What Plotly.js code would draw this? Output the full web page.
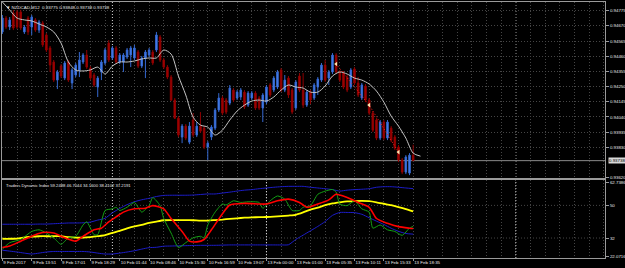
<!DOCTYPE html>
<html><head><meta charset="utf-8">
<script src="https://cdn.plot.ly/plotly-3.0.1.min.js"></script>
<style>html,body{margin:0;padding:0;background:#000;}#chart{width:625px;height:268px;}</style>
</head><body><div id="chart"></div>
<script>
const symbolTitle = 'NZDCAD,M12  0.93775 0.93848 0.93738 0.93738';
const tdiTitle = 'Traders Dynamic Index 59.2488 46.7044 34.1600 38.4102 37.2191';

const open = [
0.94628,0.94724,0.94662,0.94759,0.94766,0.94766,0.94628,0.94724,0.94662,0.94711,
0.94641,0.94690,0.94607,0.94517,0.94420,0.94295,0.94392,0.94309,0.94420,0.94275,
0.94330,0.94365,0.94420,0.94468,0.94378,0.94330,0.94247,0.94351,0.94413,0.94551,
0.94448,0.94517,0.94420,0.94420,0.94455,0.94468,0.94448,0.94489,0.94392,0.94448,
0.94468,0.94489,0.94503,0.94593,0.94434,0.94385,0.94316,0.94157,0.94032,0.93901,
0.93977,0.93866,0.94019,0.93915,0.93977,0.93963,0.93832,0.93901,0.93963,0.94088,
0.94171,0.94157,0.94136,0.94226,0.94171,0.94178,0.94212,0.94122,0.94171,0.94205,
0.94171,0.94102,0.94143,0.94261,0.94226,0.94247,0.94365,0.94226,0.94309,0.94226,
0.94102,0.94323,0.94226,0.94122,0.94212,0.94171,0.94247,0.94295,0.94399,0.94309,
0.94351,0.94468,0.94351,0.94344,0.94316,0.94247,0.94372,0.94275,0.94171,0.94254,
0.94157,0.94067,0.94019,0.93894,0.94005,0.93894,0.93963,0.93901,0.93832,0.93742,
0.93659,0.93652,0.93775];
const high = [
0.94745,0.94738,0.94731,0.94780,0.94780,0.94780,0.94676,0.94738,0.94745,0.94724,
0.94711,0.94704,0.94621,0.94531,0.94434,0.94365,0.94406,0.94427,0.94434,0.94378,
0.94413,0.94489,0.94482,0.94503,0.94392,0.94344,0.94323,0.94434,0.94517,0.94572,
0.94531,0.94531,0.94482,0.94482,0.94517,0.94531,0.94538,0.94503,0.94462,0.94503,
0.94517,0.94503,0.94628,0.94607,0.94448,0.94399,0.94330,0.94171,0.94046,0.93991,
0.93991,0.94005,0.94067,0.94005,0.94074,0.93977,0.93873,0.93984,0.94102,0.94205,
0.94185,0.94171,0.94261,0.94240,0.94226,0.94240,0.94226,0.94219,0.94219,0.94219,
0.94185,0.94205,0.94261,0.94275,0.94323,0.94365,0.94378,0.94330,0.94323,0.94240,
0.94295,0.94344,0.94344,0.94226,0.94226,0.94275,0.94316,0.94413,0.94434,0.94365,
0.94482,0.94482,0.94365,0.94358,0.94330,0.94378,0.94385,0.94316,0.94275,0.94268,
0.94171,0.94081,0.94032,0.94019,0.94019,0.94019,0.93977,0.93915,0.93846,0.93756,
0.93776,0.93790,0.93848];
const low = [
0.94614,0.94648,0.94641,0.94641,0.94648,0.94641,0.94614,0.94607,0.94607,0.94628,
0.94621,0.94524,0.94489,0.94351,0.94282,0.94233,0.94309,0.94295,0.94282,0.94233,
0.94316,0.94316,0.94406,0.94372,0.94295,0.94247,0.94178,0.94295,0.94399,0.94420,
0.94434,0.94406,0.94406,0.94351,0.94441,0.94385,0.94434,0.94378,0.94378,0.94309,
0.94455,0.94399,0.94489,0.94420,0.94372,0.94302,0.94150,0.94026,0.93901,0.93859,
0.93880,0.93852,0.93901,0.93901,0.93929,0.93818,0.93742,0.93880,0.93949,0.94074,
0.94053,0.94060,0.94122,0.94143,0.94157,0.94157,0.94095,0.94109,0.94157,0.94088,
0.94088,0.94005,0.94129,0.94178,0.94212,0.94233,0.94212,0.94212,0.94171,0.94060,
0.94088,0.94212,0.94102,0.94109,0.94129,0.94157,0.94192,0.94282,0.94282,0.94261,
0.94337,0.94337,0.94282,0.94233,0.94212,0.94233,0.94261,0.94178,0.94157,0.94143,
0.94053,0.93936,0.93880,0.93880,0.93880,0.93880,0.93866,0.93811,0.93728,0.93645,
0.93645,0.93638,0.93738];
const close = [
0.94724,0.94662,0.94711,0.94655,0.94662,0.94655,0.94662,0.94628,0.94731,0.94641,
0.94697,0.94538,0.94503,0.94399,0.94295,0.94351,0.94323,0.94413,0.94295,0.94365,
0.94399,0.94434,0.94468,0.94385,0.94309,0.94261,0.94309,0.94420,0.94503,0.94434,
0.94517,0.94420,0.94468,0.94468,0.94503,0.94517,0.94517,0.94392,0.94448,0.94489,
0.94503,0.94413,0.94607,0.94434,0.94385,0.94316,0.94157,0.94032,0.93915,0.93977,
0.93894,0.93977,0.93915,0.93977,0.93942,0.93832,0.93859,0.93970,0.94088,0.94171,
0.94067,0.94074,0.94240,0.94157,0.94212,0.94226,0.94109,0.94205,0.94205,0.94102,
0.94102,0.94192,0.94247,0.94192,0.94309,0.94351,0.94226,0.94295,0.94192,0.94074,
0.94282,0.94226,0.94122,0.94212,0.94157,0.94261,0.94302,0.94399,0.94295,0.94351,
0.94468,0.94351,0.94295,0.94247,0.94226,0.94365,0.94275,0.94192,0.94261,0.94157,
0.94067,0.93949,0.93894,0.94005,0.93894,0.94005,0.93880,0.93825,0.93742,0.93659,
0.93763,0.93776,0.93738];

// moving average, read every 2 bars (last points are shifted past the last bar)
const maPrice = [
0.94835,0.94780,0.94724,0.94711,0.94704,0.94683,0.94662,0.94628,0.94551,0.94420,
0.94365,0.94358,0.94365,0.94385,0.94337,0.94392,0.94420,0.94420,0.94427,0.94441,
0.94448,0.94448,0.94503,0.94475,0.94323,0.94192,0.94039,0.93984,0.93970,0.93915,
0.93949,0.94019,0.94081,0.94122,0.94150,0.94157,0.94150,0.94178,0.94226,0.94261,
0.94247,0.94240,0.94212,0.94212,0.94254,0.94323,0.94351,0.94337,0.94309,0.94295,
0.94268,0.94219,0.94143,0.94046,0.93977,0.93894,0.93790,0.93769];

const arrowBars = [91, 100, 108];
const arrowPrice = [0.94406, 0.94122, 0.93797];
const bidPrice = 0.93738;

const priceTicks = [0.94775,0.94670,0.94565,0.94460,0.94355,0.94250,0.94145,0.94040,0.93935,0.93830,0.93620];
const timeTickBars = [0,8,16,24,32,40,48,56,64,72,80,88,96,104,112];
const timeLabels = ['9 Feb 2017','9 Feb 13:51','9 Feb 17:01','9 Feb 18:29','10 Feb 01:44','10 Feb 08:46','10 Feb 15:30','10 Feb 16:59','10 Feb 19:07','13 Feb 00:00','13 Feb 01:00','13 Feb 05:35','13 Feb 10:11','13 Feb 15:33','13 Feb 18:35'];
const daySeparators = [30, 72, 140];

// Traders Dynamic Index, bands and base read every 2 bars
const upperBand = [39.6,39.6,39.6,39.6,39.6,39.7,39.7,39.9,40.1,40.3,
40.3,40.4,40.8,41.9,42.9,45.9,48.3,50.4,52.0,53.1,
53.9,54.9,55.5,55.6,55.6,55.6,55.7,56.0,56.3,56.3,
56.8,57.3,57.9,58.4,58.7,59.2,59.6,60.0,60.3,60.5,
60.5,60.5,60.0,59.6,59.2,58.7,57.9,58.4,58.7,58.9,
59.2,60.0,60.3,60.3,60.0,59.6,59.25];
const lowerBand = [25.3,24.8,24.3,23.7,23.2,23.7,24.3,24.6,24.6,24.6,
24.6,24.6,24.3,23.7,23.2,23.2,23.7,24.3,25.0,25.9,
26.7,26.9,27.5,27.6,27.7,27.8,27.9,28.0,28.0,28.0,
28.1,28.2,28.2,28.2,28.2,28.2,28.2,28.2,28.2,28.3,
31.2,33.6,36.0,38.4,41.1,44.5,46.1,46.1,46.0,45.1,
43.2,41.3,39.5,37.4,35.7,34.5,34.16];
const marketBase = [31.6,31.6,31.7,32.3,32.8,33.0,33.0,33.0,33.0,32.5,
32.2,32.2,32.5,33.0,33.6,34.9,36.0,37.3,38.4,39.2,
40.3,41.1,41.8,41.9,41.9,41.9,41.8,41.6,41.6,41.9,
42.2,42.6,42.9,43.2,43.4,43.5,43.6,43.8,44.1,44.4,
44.8,46.1,47.7,48.8,50.1,51.1,51.7,52.2,52.4,52.5,
52.3,51.7,50.9,50.1,49.1,48.0,46.70];
const rsiBars = [0,2,5,8,10,12,14,16,18,20,22,23,25,26,28,30,31,32,34,36,37,38,40,41,43,44,46,48,50,52,54,55,56,58,60,61,63,65,67,70,71,73,75,77,79,81,82,84,86,88,90,91,92,94,96,98,100,101,103,105,107,109,111,112];
const rsiLine = [25.87,29.44,31.2,35.63,36.53,34.77,32.11,28.53,32.11,32.96,39.2,40.96,33.87,33.87,47.2,48.1,48.96,47.2,48.96,51.63,48.96,46.29,49.87,54.29,49.87,42.77,34.77,26.77,29.44,32.11,32.96,32.11,39.2,46.29,50.77,50.24,52.53,51.63,52.0,51.63,48.43,52.53,55.2,53.44,47.2,47.2,48.96,49.87,56.11,57.87,58.77,57.33,50.77,49.87,52.53,48.1,46.29,37.44,39.2,36.53,35.63,33.49,37.44,38.41];
const sigBars = [0,2,5,9,11,14,17,20,22,25,27,29,31,33,36,39,41,44,46,49,51,53,55,57,60,62,66,70,72,75,78,81,83,86,89,91,94,97,100,102,105,108,111,112];
const signalLine = [26.77,27.63,30.29,33.87,35.09,34.77,32.11,30.29,32.96,36.53,37.44,40.96,43.63,46.29,48.1,48.43,49.87,48.1,42.77,35.63,30.29,29.87,31.2,36.53,45.44,50.24,51.09,50.77,50.77,52.53,53.44,51.63,48.96,50.77,53.07,56.11,54.29,51.63,48.96,42.77,40.11,38.29,37.44,37.22];
const tdiTicks = [62.7386, 50, 32, 22.0716];
const tdiTickText = ['62.7386','50','32','22.0716'];
const tdiLevels = [50, 32];

const bars = close.map((_, i) => i);
const maBars = maPrice.map((_, k) => 2 * k);
const tdiBars = upperBand.map((_, k) => 2 * k);

const GRID = '#454545', FRAME = '#9a9a9a', TXT = '#e8e8e8';
const FONT = 'Liberation Sans, Arial, sans-serif';
const DOT = '1px,2px';

const traces = [
  {type:'candlestick', x:bars, open:open, high:high, low:low, close:close, xaxis:'x', yaxis:'y',
   increasing:{line:{color:'#3568d0', width:1}, fillcolor:'#4a86f5'},
   decreasing:{line:{color:'#8e0000', width:1}, fillcolor:'#aa0000'},
   whiskerwidth:0, hoverinfo:'skip'},
  {type:'scatter', mode:'lines', x:maBars, y:maPrice, xaxis:'x', yaxis:'y',
   line:{color:'#c4c4c4', width:1, shape:'spline', smoothing:0.8}, hoverinfo:'skip'},
  {type:'scatter', mode:'lines+markers', x:arrowBars, y:arrowPrice, xaxis:'x', yaxis:'y',
   line:{color:'#ff2020', width:1, dash:DOT},
   marker:{symbol:'triangle-left', size:4, color:'#ffe6b0'}, hoverinfo:'skip'},
  {type:'scatter', mode:'lines', x:tdiBars, y:upperBand, xaxis:'x2', yaxis:'y2',
   line:{color:'#1c1cc8', width:1, shape:'spline', smoothing:0.6}, hoverinfo:'skip'},
  {type:'scatter', mode:'lines', x:tdiBars, y:lowerBand, xaxis:'x2', yaxis:'y2',
   line:{color:'#1c1cc8', width:1, shape:'spline', smoothing:0.6}, hoverinfo:'skip'},
  {type:'scatter', mode:'lines', x:tdiBars, y:marketBase, xaxis:'x2', yaxis:'y2',
   line:{color:'#ffff00', width:1.8, shape:'spline', smoothing:0.6}, hoverinfo:'skip'},
  {type:'scatter', mode:'lines', x:rsiBars, y:rsiLine, xaxis:'x2', yaxis:'y2',
   line:{color:'#14a014', width:1, shape:'spline', smoothing:0.6}, hoverinfo:'skip'},
  {type:'scatter', mode:'lines', x:sigBars, y:signalLine, xaxis:'x2', yaxis:'y2',
   line:{color:'#ff0000', width:1.6, shape:'spline', smoothing:0.6}, hoverinfo:'skip'}
];

const xCommon = {
  range:[-0.1, 164.3], zeroline:false, automargin:false,
  showgrid:true, gridcolor:GRID, griddash:DOT, gridwidth:1,
  minor:{tickmode:'linear', tick0:0, dtick:4, showgrid:true, gridcolor:GRID, griddash:DOT, gridwidth:1, ticks:''},
  showline:true, linecolor:FRAME, linewidth:1, mirror:true,
  tickmode:'array', tickvals:timeTickBars, tickangle:0
};

const shapes = [];
daySeparators.forEach(d => shapes.push({type:'line', xref:'x', yref:'paper', x0:d, x1:d, y0:0, y1:1,
  line:{color:'#d8d8d8', width:1, dash:'1px,2px'}, layer:'below'}));
tdiLevels.forEach(v => shapes.push({type:'line', xref:'paper', yref:'y2', x0:0, x1:1, y0:v, y1:v,
  line:{color:GRID, width:1, dash:DOT}, layer:'below'}));
shapes.push({type:'line', xref:'paper', yref:'y', x0:0, x1:1, y0:bidPrice, y1:bidPrice,
  line:{color:'#8a8a8a', width:1}, layer:'below'});

const layout = {
  width:625, height:268,
  paper_bgcolor:'#000', plot_bgcolor:'#000',
  margin:{l:2, r:20, t:2, b:10, pad:0},
  showlegend:false,
  boxgap:0.4,
  font:{family:FONT, size:4.4, color:TXT},
  xaxis: Object.assign({}, xCommon, {domain:[0,1], anchor:'y', showticklabels:false, ticks:'',
    rangeslider:{visible:false}}),
  yaxis:{domain:[0.3125,1], anchor:'x', side:'right', range:[0.93618, 0.94835],
    tickmode:'array', tickvals:priceTicks, ticktext:priceTicks.map(v => v.toFixed(5)),
    ticks:'outside', ticklen:3, tickcolor:FRAME, tickfont:{size:4.4, color:TXT, family:FONT},
    showgrid:true, gridcolor:GRID, griddash:DOT, gridwidth:1,
    showline:true, linecolor:FRAME, linewidth:1, mirror:true, zeroline:false, automargin:false},
  xaxis2: Object.assign({}, xCommon, {domain:[0,1], anchor:'y2', matches:'x',
    ticktext:timeLabels, ticks:'outside', ticklen:2, tickcolor:FRAME,
    ticklabelposition:'outside right', tickfont:{size:4.4, color:TXT, family:FONT}}),
  yaxis2:{domain:[0,0.3047], anchor:'x2', side:'right', range:[21.0, 64.0],
    tickmode:'array', tickvals:tdiTicks, ticktext:tdiTickText,
    ticks:'outside', ticklen:3, tickcolor:FRAME, tickfont:{size:4.4, color:TXT, family:FONT},
    showgrid:false, showline:true, linecolor:FRAME, linewidth:1, mirror:true, zeroline:false, automargin:false},
  shapes:shapes,
  annotations:[
    {xref:'paper', yref:'paper', x:0, y:1, xanchor:'left', yanchor:'top', xshift:2, yshift:-1,
     text:'▼ ' + symbolTitle, showarrow:false, font:{size:4.4, color:TXT, family:FONT}},
    {xref:'paper', yref:'paper', x:0, y:0.3047, xanchor:'left', yanchor:'top', xshift:2, yshift:-1,
     text:tdiTitle, showarrow:false, font:{size:4.2, color:TXT, family:FONT}},
    {xref:'paper', yref:'y', x:1, y:bidPrice, xanchor:'left', yanchor:'middle', xshift:3,
     text:bidPrice.toFixed(5), showarrow:false, bgcolor:'#d8d8d8', borderpad:0,
     font:{size:4.4, color:'#000', family:FONT}}
  ]
};

Plotly.newPlot('chart', traces, layout, {staticPlot:true, displayModeBar:false});
</script>
</body></html>
